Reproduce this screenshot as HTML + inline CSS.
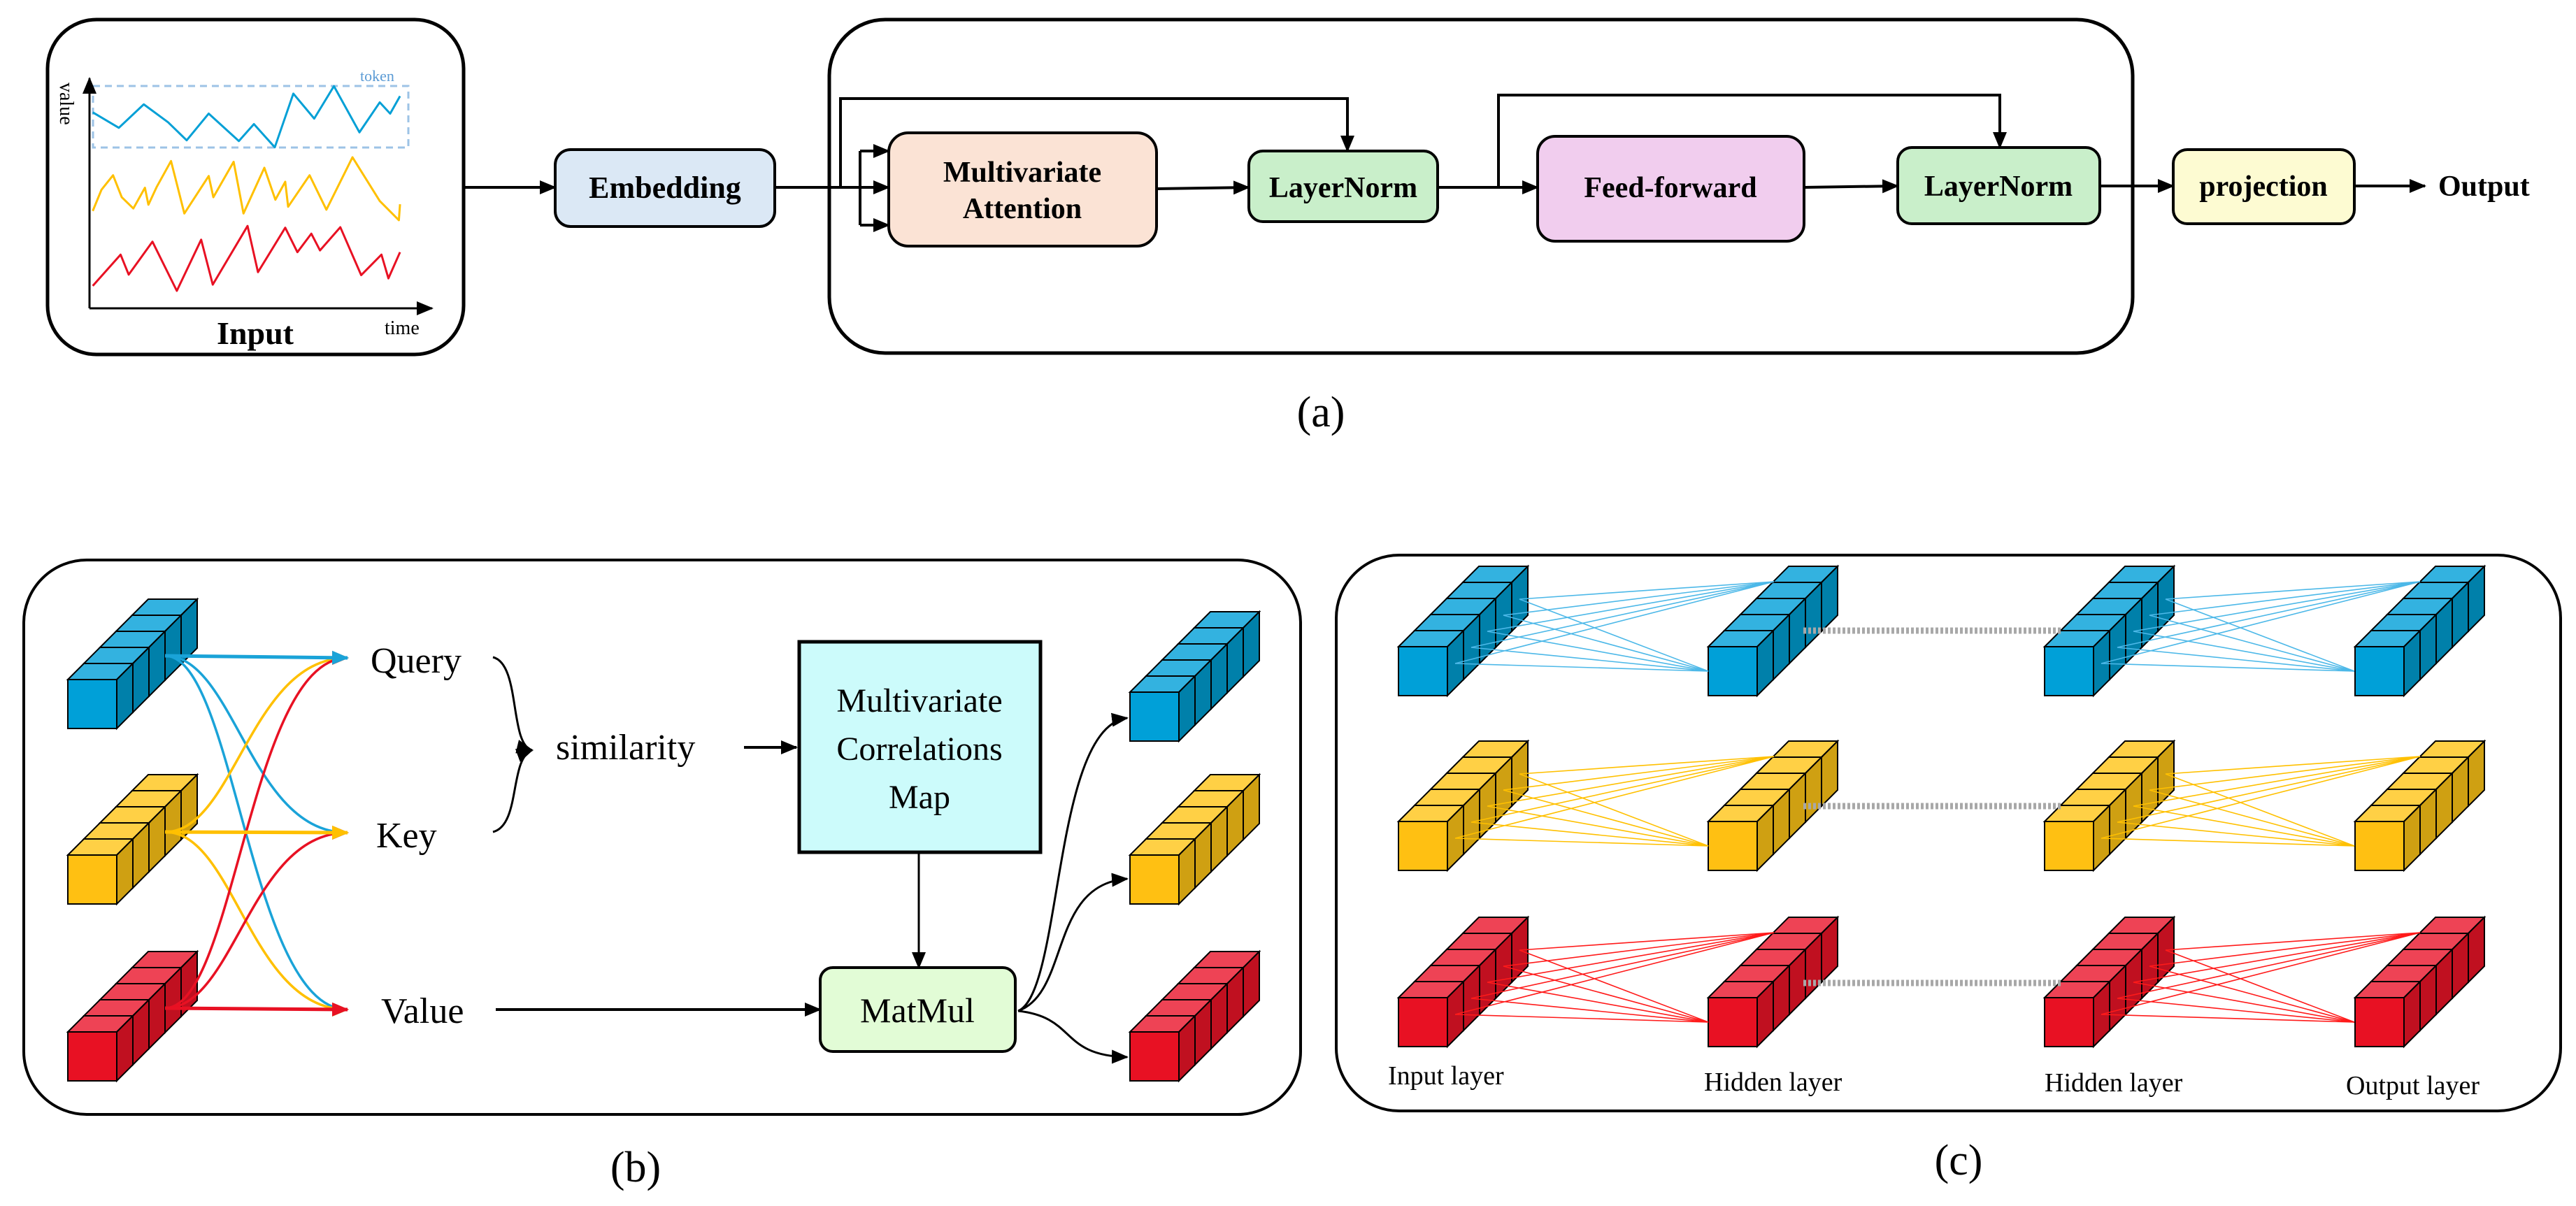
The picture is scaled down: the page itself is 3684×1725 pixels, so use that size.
<!DOCTYPE html>
<html><head><meta charset="utf-8"><style>
html,body{margin:0;padding:0;background:#fff}
svg{display:block}
text{font-family:"Liberation Serif",serif}
.b{font-weight:bold}
.cf{fill:var(--f);stroke:#000;stroke-width:2}
.ct{fill:var(--t);stroke:#000;stroke-width:2}
.cs{fill:var(--s);stroke:#000;stroke-width:2}
.fan line{stroke:var(--c);stroke-width:1.6}
</style></head><body>
<svg width="3684" height="1725" viewBox="0 0 3684 1725" xmlns="http://www.w3.org/2000/svg">
<defs>
<marker id="ak" markerWidth="24" markerHeight="20" refX="22" refY="10" orient="auto" markerUnits="userSpaceOnUse"><path d="M0,0 L24,10 L0,20 z" fill="#000"/></marker>
<marker id="ab" markerWidth="24" markerHeight="20" refX="22" refY="10" orient="auto" markerUnits="userSpaceOnUse"><path d="M0,0 L24,10 L0,20 z" fill="#1aa3d8"/></marker>
<marker id="ay" markerWidth="24" markerHeight="20" refX="22" refY="10" orient="auto" markerUnits="userSpaceOnUse"><path d="M0,0 L24,10 L0,20 z" fill="#ffc000"/></marker>
<marker id="ar" markerWidth="24" markerHeight="20" refX="22" refY="10" orient="auto" markerUnits="userSpaceOnUse"><path d="M0,0 L24,10 L0,20 z" fill="#e81123"/></marker>
<g id="stk">
<rect class="cf" x="92" y="-92" width="70" height="70"/><polygon class="ct" points="92,-92 115,-115 185,-115 162,-92"/><polygon class="cs" points="162,-92 185,-115 185,-45 162,-22"/>
<rect class="cf" x="69" y="-69" width="70" height="70"/><polygon class="ct" points="69,-69 92,-92 162,-92 139,-69"/><polygon class="cs" points="139,-69 162,-92 162,-22 139,1"/>
<rect class="cf" x="46" y="-46" width="70" height="70"/><polygon class="ct" points="46,-46 69,-69 139,-69 116,-46"/><polygon class="cs" points="116,-46 139,-69 139,1 116,24"/>
<rect class="cf" x="23" y="-23" width="70" height="70"/><polygon class="ct" points="23,-23 46,-46 116,-46 93,-23"/><polygon class="cs" points="93,-23 116,-46 116,24 93,47"/>
<rect class="cf" x="0" y="0" width="70" height="70"/><polygon class="ct" points="0,0 23,-23 93,-23 70,0"/><polygon class="cs" points="70,0 93,-23 93,47 70,70"/>
</g>
<g id="fan" class="fan">
<line x1="81" y1="24" x2="537" y2="-93"/><line x1="81" y1="24" x2="443" y2="35"/>
<line x1="104" y1="1" x2="537" y2="-93"/><line x1="104" y1="1" x2="443" y2="35"/>
<line x1="127" y1="-22" x2="537" y2="-93"/><line x1="127" y1="-22" x2="443" y2="35"/>
<line x1="150" y1="-45" x2="537" y2="-93"/><line x1="150" y1="-45" x2="443" y2="35"/>
<line x1="173" y1="-68" x2="537" y2="-93"/><line x1="173" y1="-68" x2="443" y2="35"/>
</g>
</defs>

<!-- ===== (a) ===== -->
<rect x="68" y="28" width="595" height="479" rx="70" fill="#fff" stroke="#000" stroke-width="5"/>
<rect x="133" y="123" width="451" height="88" fill="none" stroke="#9dc3e6" stroke-width="3" stroke-dasharray="10 7"/>
<text x="515" y="116" font-size="22" fill="#5b9bd5">token</text>
<text transform="translate(86,118) rotate(90)" font-size="28">value</text>
<line x1="128" y1="441" x2="128" y2="112" stroke="#000" stroke-width="3" marker-end="url(#ak)"/>
<line x1="128" y1="441" x2="618" y2="441" stroke="#000" stroke-width="3" marker-end="url(#ak)"/>
<g transform="scale(0.8291,0.3571)" fill="none" stroke-width="3" stroke-linejoin="round">
<polyline vector-effect="non-scaling-stroke" stroke="#05a0d6" points="160,450 205,512 248,418 290,490 322,562 360,455 412,565 438,497 474,590 506,375 542,475 576,345 620,530 655,410 673,455 690,385"/>
<polyline vector-effect="non-scaling-stroke" stroke="#ffc000" points="160,845 175,760 195,702 210,790 230,835 250,752 256,820 270,750 295,645 318,855 360,705 368,790 403,648 420,855 456,672 475,800 492,728 497,828 534,702 563,840 608,630 655,805 688,882 690,818"/>
<polyline vector-effect="non-scaling-stroke" stroke="#e81123" points="160,1145 208,1020 222,1100 263,968 305,1165 347,960 367,1140 427,905 445,1090 492,912 513,1010 537,936 552,1003 587,910 623,1102 658,1020 670,1115 690,1010"/>
</g>
<text x="550" y="478" font-size="28">time</text>
<text x="365" y="492" font-size="46" class="b" text-anchor="middle">Input</text>

<line x1="663" y1="268" x2="794" y2="268" stroke="#000" stroke-width="4" marker-end="url(#ak)"/>
<rect x="794" y="214" width="314" height="110" rx="22" fill="#dbe8f5" stroke="#000" stroke-width="4"/>
<text x="951" y="283" font-size="44" class="b" text-anchor="middle">Embedding</text>

<rect x="1186" y="28" width="1864" height="477" rx="80" fill="none" stroke="#000" stroke-width="5"/>
<line x1="1108" y1="268" x2="1271" y2="268" stroke="#000" stroke-width="4" marker-end="url(#ak)"/>
<polyline points="1230,216 1230,322" fill="none" stroke="#000" stroke-width="4"/>
<line x1="1230" y1="216" x2="1271" y2="216" stroke="#000" stroke-width="4" marker-end="url(#ak)"/>
<line x1="1230" y1="322" x2="1271" y2="322" stroke="#000" stroke-width="4" marker-end="url(#ak)"/>
<polyline points="1202,268 1202,141 1927,141 1927,216" fill="none" stroke="#000" stroke-width="4" marker-end="url(#ak)"/>
<rect x="1271" y="190" width="383" height="162" rx="28" fill="#fbe3d5" stroke="#000" stroke-width="4"/>
<text x="1462" y="260" font-size="42" class="b" text-anchor="middle">Multivariate</text>
<text x="1462" y="312" font-size="42" class="b" text-anchor="middle">Attention</text>

<line x1="1654" y1="270" x2="1786" y2="268" stroke="#000" stroke-width="4" marker-end="url(#ak)"/>
<rect x="1786" y="216" width="270" height="101" rx="20" fill="#c9efca" stroke="#000" stroke-width="4"/>
<text x="1921" y="282" font-size="42" class="b" text-anchor="middle">LayerNorm</text>

<line x1="2056" y1="268" x2="2199" y2="268" stroke="#000" stroke-width="4" marker-end="url(#ak)"/>
<polyline points="2143,268 2143,136 2860,136 2860,211" fill="none" stroke="#000" stroke-width="4" marker-end="url(#ak)"/>
<rect x="2199" y="195" width="381" height="150" rx="25" fill="#f1cdee" stroke="#000" stroke-width="4"/>
<text x="2389" y="282" font-size="42" class="b" text-anchor="middle">Feed-forward</text>

<line x1="2580" y1="268" x2="2714" y2="266" stroke="#000" stroke-width="4" marker-end="url(#ak)"/>
<rect x="2714" y="211" width="289" height="109" rx="20" fill="#c9efca" stroke="#000" stroke-width="4"/>
<text x="2858" y="280" font-size="42" class="b" text-anchor="middle">LayerNorm</text>

<line x1="3003" y1="266" x2="3108" y2="266" stroke="#000" stroke-width="4" marker-end="url(#ak)"/>
<rect x="3108" y="214" width="259" height="106" rx="20" fill="#fdfbd2" stroke="#000" stroke-width="4"/>
<text x="3237" y="280" font-size="42" class="b" text-anchor="middle">projection</text>
<line x1="3367" y1="266" x2="3468" y2="266" stroke="#000" stroke-width="4" marker-end="url(#ak)"/>
<text x="3487" y="280" font-size="42" class="b">Output</text>

<text x="1889" y="610" font-size="62" text-anchor="middle">(a)</text>

<!-- ===== (b) ===== -->
<rect x="34" y="801" width="1826" height="793" rx="90" fill="none" stroke="#000" stroke-width="4"/>
<use href="#stk" x="97" y="972" style="--f:#00a0d8;--t:#33b2e0;--s:#0080aa"/>
<use href="#stk" x="97" y="1223" style="--f:#ffc012;--t:#ffd045;--s:#cfa012"/>
<use href="#stk" x="97" y="1476" style="--f:#e81123;--t:#ee4355;--s:#c01020"/>
<use href="#stk" x="1616" y="990" style="--f:#00a0d8;--t:#33b2e0;--s:#0080aa"/>
<use href="#stk" x="1616" y="1223" style="--f:#ffc012;--t:#ffd045;--s:#cfa012"/>
<use href="#stk" x="1616" y="1476" style="--f:#e81123;--t:#ee4355;--s:#c01020"/>

<g fill="none" stroke-width="3.5">
<path d="M236,938 C336,938 357,1191 497,1191" stroke="#1aa3d8" marker-end="url(#ab)"/>
<path d="M236,938 C336,938 357,1444 497,1444" stroke="#1aa3d8" marker-end="url(#ab)"/>
<path d="M236,1190 C336,1190 357,941 497,941" stroke="#ffc000" marker-end="url(#ay)"/>
<path d="M236,1190 C336,1190 357,1444 497,1444" stroke="#ffc000" marker-end="url(#ay)"/>
<path d="M236,1442 C336,1442 357,941 497,941" stroke="#e81123" marker-end="url(#ar)"/>
<path d="M236,1442 C336,1442 357,1191 497,1191" stroke="#e81123" marker-end="url(#ar)"/>
<path d="M236,938 L497,941" stroke="#1aa3d8" stroke-width="5" marker-end="url(#ab)"/>
<path d="M236,1190 L497,1191" stroke="#ffc000" stroke-width="5" marker-end="url(#ay)"/>
<path d="M236,1442 L497,1444" stroke="#e81123" stroke-width="5" marker-end="url(#ar)"/>
</g>
<text x="530" y="962" font-size="52">Query</text>
<text x="538" y="1212" font-size="52">Key</text>
<text x="545" y="1463" font-size="52">Value</text>
<g fill="none" stroke="#000" stroke-width="3">
<path d="M705,940 C745,950 728,1065 761,1073" marker-end="url(#ak)"/>
<path d="M705,1190 C745,1180 728,1085 761,1073" marker-end="url(#ak)"/>
<line x1="1064" y1="1069" x2="1139" y2="1069" stroke-width="4" marker-end="url(#ak)"/>
</g>
<text x="795" y="1086" font-size="52">similarity</text>
<rect x="1143" y="918" width="345" height="301" fill="#ccfbfb" stroke="#000" stroke-width="5"/>
<text x="1315" y="1018" font-size="48" text-anchor="middle">Multivariate</text>
<text x="1315" y="1087" font-size="48" text-anchor="middle">Correlations</text>
<text x="1315" y="1156" font-size="48" text-anchor="middle">Map</text>
<line x1="1314" y1="1219" x2="1314" y2="1384" stroke="#000" stroke-width="3" marker-end="url(#ak)"/>
<line x1="709" y1="1444" x2="1173" y2="1444" stroke="#000" stroke-width="4" marker-end="url(#ak)"/>
<rect x="1173" y="1384" width="279" height="120" rx="18" fill="#e2fcd6" stroke="#000" stroke-width="4"/>
<text x="1312" y="1462" font-size="50" text-anchor="middle">MatMul</text>
<g fill="none" stroke="#000" stroke-width="3">
<path d="M1456,1446 C1520,1420 1505,1040 1612,1027" marker-end="url(#ak)"/>
<path d="M1456,1446 C1530,1420 1500,1265 1612,1257" marker-end="url(#ak)"/>
<path d="M1456,1446 C1540,1455 1515,1510 1612,1512" marker-end="url(#ak)"/>
</g>
<text x="909" y="1690" font-size="62" text-anchor="middle">(b)</text>

<!-- ===== (c) ===== -->
<rect x="1911" y="794" width="1751" height="795" rx="90" fill="none" stroke="#000" stroke-width="4"/>
<g style="--f:#00a0d8;--t:#33b2e0;--s:#0080aa;--c:#4cb8e8">
<use href="#stk" x="2000" y="925"/><use href="#stk" x="2443" y="925"/><use href="#stk" x="2924" y="925"/><use href="#stk" x="3368" y="925"/>
<use href="#fan" x="2000" y="925"/><use href="#fan" x="2924" y="925"/>
</g>
<g style="--f:#ffc012;--t:#ffd045;--s:#cfa012;--c:#ffc000">
<use href="#stk" x="2000" y="1175"/><use href="#stk" x="2443" y="1175"/><use href="#stk" x="2924" y="1175"/><use href="#stk" x="3368" y="1175"/>
<use href="#fan" x="2000" y="1175"/><use href="#fan" x="2924" y="1175"/>
</g>
<g style="--f:#e81123;--t:#ee4355;--s:#c01020;--c:#ff1a1a">
<use href="#stk" x="2000" y="1427"/><use href="#stk" x="2443" y="1427"/><use href="#stk" x="2924" y="1427"/><use href="#stk" x="3368" y="1427"/>
<use href="#fan" x="2000" y="1427"/><use href="#fan" x="2924" y="1427"/>
</g>
<g stroke="#a8a8a8" stroke-width="9" stroke-dasharray="4 3">
<line x1="2579" y1="902" x2="2947" y2="902"/>
<line x1="2579" y1="1153" x2="2947" y2="1153"/>
<line x1="2579" y1="1406" x2="2947" y2="1406"/>
</g>
<text x="1985" y="1551" font-size="38">Input layer</text>
<text x="2437" y="1560" font-size="38">Hidden layer</text>
<text x="2924" y="1561" font-size="38">Hidden layer</text>
<text x="3355" y="1565" font-size="38">Output layer</text>
<text x="2801" y="1680" font-size="62" text-anchor="middle">(c)</text>
</svg>
</body></html>
